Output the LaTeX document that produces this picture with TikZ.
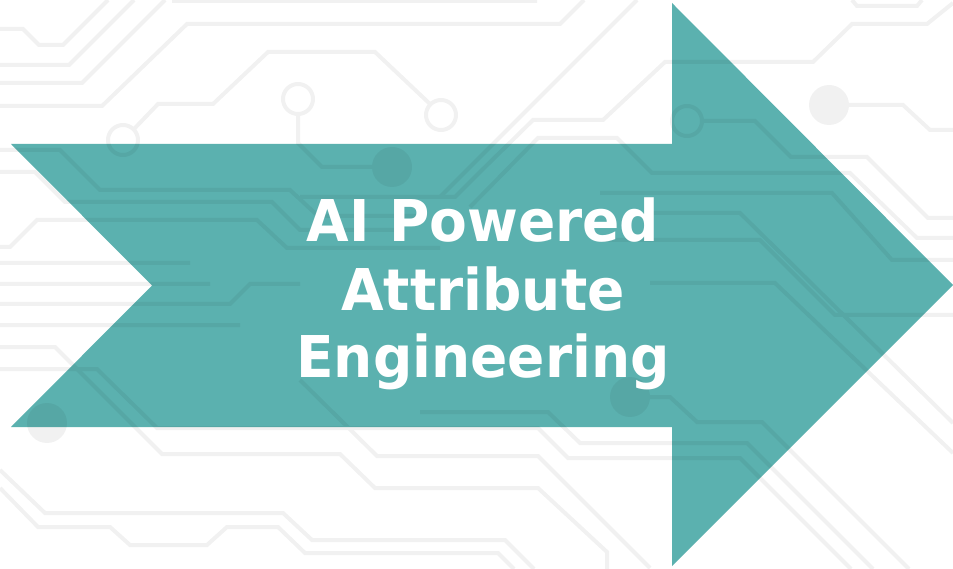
\documentclass[tikz,border=0pt]{standalone}
\usepackage{fontspec}
\setmainfont[FakeStretch=0.955]{DejaVu Sans}
\definecolor{arrowteal}{RGB}{91,177,175}
\tikzset{
  trace/.style={draw=black, line width=4pt, line join=miter},
  ring/.style={draw=black, line width=4pt},
  pad/.style={fill=black},
  bigarrow/.style={fill=arrowteal},
  caption/.style={text=white, font=\bfseries\fontsize{57.6}{67.5}\selectfont, anchor=base, inner sep=0pt}
}
\begin{document}
\begin{tikzpicture}[x=1pt,y=-1pt]
\useasboundingbox (0,0) rectangle (953,569);
\fill[white] (0,0) rectangle (953,569);

% main arrow with notched tail
\path[bigarrow] (11,144) -- (672,144) -- (672,3) -- (953,285) -- (672,566)
  -- (672,427) -- (11,427) -- (152,285.5) -- cycle;

% faint circuit-board traces, drawn over white and teal alike
\begin{scope}[transparency group, opacity=0.055]
  % upper left traces
  \draw[trace] (0,29) -- (23,29) -- (39,45) -- (63,45) -- (108,0);
  \draw[trace] (0,65) -- (69,65) -- (134,0);
  \draw[trace] (0,83) -- (82,83) -- (165,0);
  \draw[trace] (0,106) -- (102,106) -- (187,24) -- (560,24) -- (584,0);
  \draw[trace] (172,1) -- (537,1);
  % ring to ring
  \draw[ring] (123,140) circle (15);
  \draw[trace] (134,129) -- (158,104) -- (213,104) -- (268,52) -- (375,52) -- (430,104);
  \draw[ring] (441,115) circle (15);
  % ring to pad
  \draw[ring] (298,99) circle (15);
  \draw[trace] (298,114) -- (298,143) -- (322,167) -- (373,167);
  \fill[pad] (392,167) circle (20);
  % upper right traces
  \draw[trace] (852,0) -- (857,6) -- (917,6) -- (922,0);
  \draw[trace] (953,3) -- (927,24) -- (852,24) -- (813,62) -- (665,62) -- (603,120)
    -- (533,120) -- (480,172) -- (455,197) -- (300,197);
  \draw[trace] (637,0) -- (470,167) -- (440,197);
  \fill[pad] (829,105) circle (20);
  \draw[trace] (849,105) -- (903,105) -- (930,130) -- (953,130);
  \draw[ring] (687,121) circle (15);
  \draw[trace] (702,121) -- (755,121) -- (791,157) -- (867,157) -- (928,218) -- (953,218);
  \draw[trace] (470,207) -- (538,138) -- (617,138) -- (652,173) -- (850,173) -- (917,238) -- (953,238);
  \draw[trace] (600,193) -- (832,193) -- (892,260) -- (953,260);
  \draw[trace] (650,213) -- (740,213) -- (953,423);
  \draw[trace] (600,240) -- (760,240) -- (835,315) -- (953,315);
  \draw[trace] (650,283) -- (775,283) -- (953,453);
  % left side traces
  \draw[trace] (0,150) -- (60,150) -- (100,190) -- (290,190) -- (318,216) -- (420,216);
  \draw[trace] (0,172) -- (35,172) -- (65,202) -- (272,202) -- (300,230) -- (400,230);
  \draw[trace] (0,247) -- (10,247) -- (37,220) -- (257,220) -- (287,248) -- (440,248);
  \draw[trace] (0,263) -- (190,263);
  \draw[trace] (0,284) -- (210,284);
  \draw[trace] (0,304) -- (230,304) -- (250,284) -- (300,284);
  \draw[trace] (0,325) -- (240,325);
  % lower traces
  \draw[trace] (0,369) -- (97,369) -- (157,428) -- (538,428) -- (568,458) -- (740,458) -- (851,569);
  \draw[trace] (0,347) -- (55,347) -- (162,454) -- (340,454) -- (375,488) -- (538,488)
    -- (607,552) -- (607,569);
  \draw[trace] (300,380) -- (377,456) -- (538,456) -- (650,568);
  \draw[trace] (420,412) -- (548,412) -- (580,443) -- (747,443) -- (873,569);
  \fill[pad] (47,423) circle (20);
  \fill[pad] (630,397) circle (20);
  \draw[trace] (648,397) -- (670,397) -- (697,422) -- (762,422) -- (909,569);
  \draw[trace] (0,470) -- (45,513) -- (283,513) -- (312,540) -- (505,540) -- (534,569);
  \draw[trace] (0,488) -- (38,527) -- (110,527) -- (130,545) -- (207,545) -- (227,527)
    -- (278,527) -- (305,553) -- (498,553) -- (514,569);
\end{scope}

% caption
\node[caption] (l1) at (483,242) {AI Powered};
\node[caption] (l2) at (483,310) {Attribute};
\node[caption] (l3) at (483,377) {Engineering};
\end{tikzpicture}
\end{document}
